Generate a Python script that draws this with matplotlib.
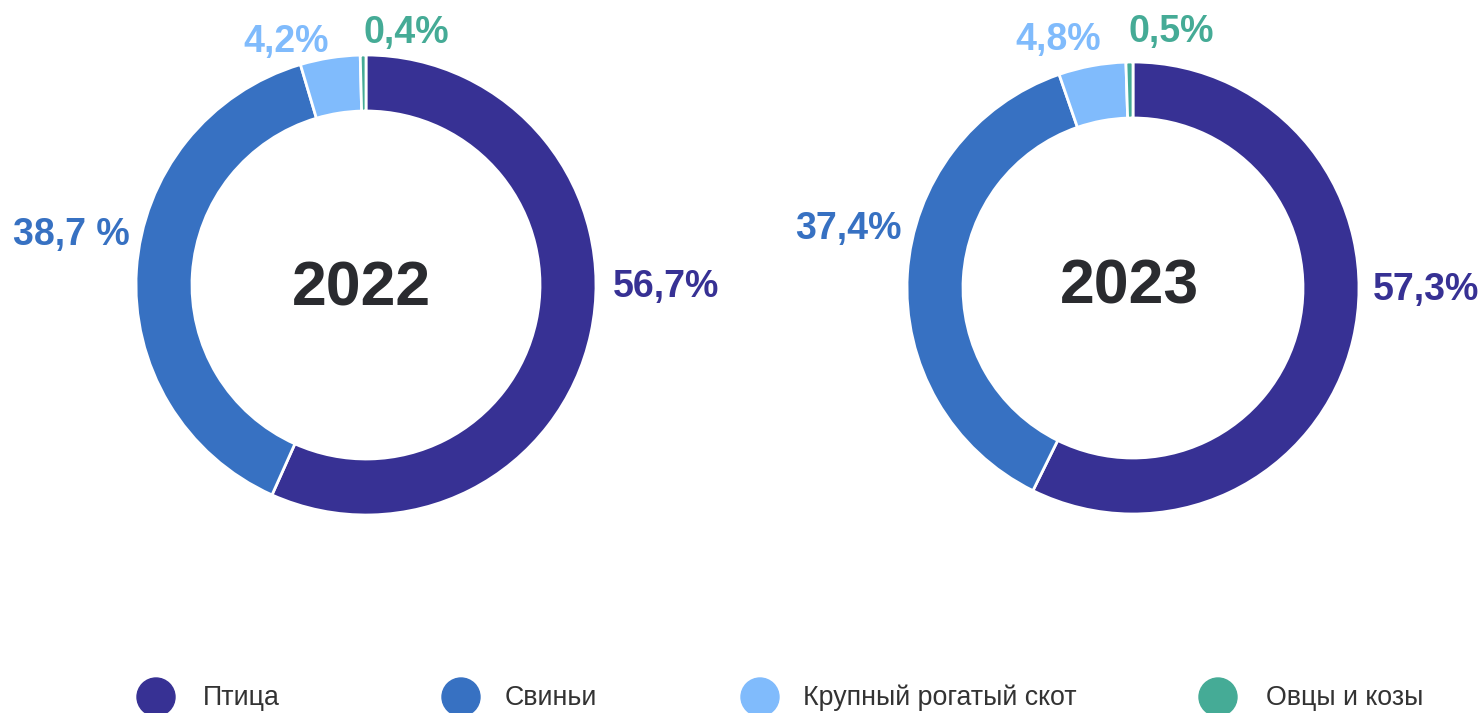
import matplotlib
matplotlib.use("Agg")
import matplotlib.pyplot as plt
from matplotlib.patches import Circle

categories = ["Птица", "Свиньи", "Крупный рогатый скот", "Овцы и козы"]
years = ["2022", "2023"]
values_2022 = [56.7, 38.7, 4.2, 0.4]
values_2023 = [57.3, 37.4, 4.8, 0.5]
labels_2022 = ["56,7%", "38,7 %", "4,2%", "0,4%"]
labels_2023 = ["57,3%", "37,4%", "4,8%", "0,5%"]
colors = ["#373194", "#3771C2", "#80BBFC", "#45AB96"]

W, H = 1483, 713
plt.rcParams['font.family'] = ['Liberation Sans', 'DejaVu Sans']
fig = plt.figure(figsize=(W / 100, H / 100), dpi=100)
ax = fig.add_axes([0, 0, 1, 1])

def py(y):
    return H - y

donuts = [
    dict(vals=values_2022, labels=labels_2022, year=years[0], c=(366, 285), r=230, w=56,
         lpos=[(666, 297), (71.5, 245), (286, 52), (406, 43)], ypos=(361.5, 305)),
    dict(vals=values_2023, labels=labels_2023, year=years[1], c=(1133, 288), r=226, w=56,
         lpos=[(1426, 300), (848, 239), (1058, 50), (1171, 42)], ypos=(1129.5, 304)),
]

for d in donuts:
    cx, cy = d["c"]
    ax.pie(d["vals"], colors=colors, startangle=90, counterclock=False,
           center=(cx, py(cy)), radius=d["r"], frame=True,
           wedgeprops=dict(width=d["w"], edgecolor="white", linewidth=2))
    for lab, (lx, ly), col in zip(d["labels"], d["lpos"], colors):
        ax.text(lx, py(ly), lab, color=col, fontsize=27, fontweight="bold",
                ha="center", va="baseline")
    ax.text(d["ypos"][0], py(d["ypos"][1]), d["year"], color="#2a2b2f", fontsize=45,
            fontweight="bold", ha="center", va="baseline")

leg_cx = [156, 461, 760, 1218]
leg_tx = [203, 505, 803, 1266]
for cat, col, cxp, tx in zip(categories, colors, leg_cx, leg_tx):
    ax.add_patch(Circle((cxp, py(697)), 19, color=col, clip_on=False))
    ax.text(tx, py(705), cat, color="#333333", fontsize=19.3, ha="left", va="baseline")

ax.set_xlim(0, W)
ax.set_ylim(0, H)
ax.set_aspect("auto")
ax.axis("off")

fig.savefig("out.png", dpi=100, facecolor="white")
